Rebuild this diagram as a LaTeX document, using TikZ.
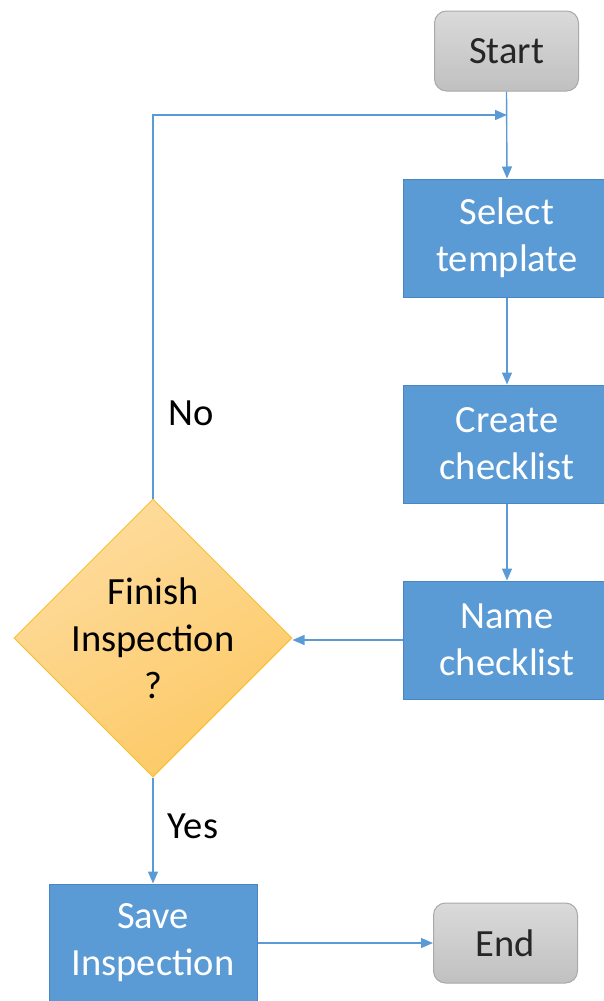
\documentclass[tikz,border=0pt]{standalone}
\usepackage{fontspec}
\setmainfont{Carlito}
\usetikzlibrary{shapes.geometric,arrows.meta}
\definecolor{flowblue}{HTML}{5B9BD5}
\definecolor{flowblueedge}{HTML}{4A87C2}
\definecolor{linkblue}{HTML}{5B9BD5}
\definecolor{termtop}{HTML}{DADADA}
\definecolor{termbot}{HTML}{C0C0C0}
\definecolor{termedge}{HTML}{A9A9A9}
\definecolor{decitop}{HTML}{FEDC9E}
\definecolor{decibot}{HTML}{FCC965}
\definecolor{deciedge}{HTML}{F8C136}
\definecolor{inktext}{HTML}{262626}
\tikzset{
  bigtext/.style={font=\fontsize{38.5}{47}\selectfont, align=center},
  process/.style={bigtext, rectangle, fill=flowblue, draw=flowblueedge,
    line width=1pt, text=white, minimum width=208pt, minimum height=118pt,
    inner sep=0pt},
  terminal/.style={bigtext, rectangle, rounded corners=12pt,
    top color=termtop, bottom color=termbot, draw=termedge, line width=1pt,
    text=inktext, minimum width=144pt, minimum height=80pt, inner sep=0pt},
  decision/.style={diamond, top color=decitop, bottom color=decibot,
    shading angle=30, draw=deciedge, line width=1pt,
    minimum width=278pt, minimum height=278pt, inner sep=0pt},
  link/.style={draw=linkblue, line width=1.4pt,
    -{Triangle[length=12pt,width=10pt]}},
  tag/.style={bigtext, text=black}
}
\begin{document}
\begin{tikzpicture}[x=1pt,y=-1pt]
\useasboundingbox (0,0) rectangle (603,1001);

% terminals
\node[terminal] (start) at (506.5,51) {Start};
\node[terminal] (end) at (505.5,943) {End};

% process steps
\node[process] (select) at (507,238) {Select\\template};
\node[process] (create) at (507,444) {Create\\checklist};
\node[process] (name)   at (507,640) {Name\\checklist};
\node[process] (save)   at (153,943) {Save\\Inspection};

% decision: fixed-size diamond with its question set on top
\node[decision] (dec) at (153,638) {};
\node[tag] (dectext) at (dec.center) {Finish\\Inspection\\?};

% loop-back junction on the main line
\coordinate (join) at (507,115);

% connectors
\draw[link] (start.south) -- (select.north);
\draw[link] (dec.north) |- (join);
\draw[link] (select.south) -- (create.north);
\draw[link] (create.south) -- (name.north);
\draw[link] (name.west) -- (name.west -| dec.east);
\draw[link] (dec.south) -- (save.north);
\draw[link] (save.east) -- (end.west);

% branch labels
\node[tag] (nolabel) at (191,413) {No};
\node[tag] (yeslabel) at (193,826) {Yes};
\end{tikzpicture}
\end{document}
